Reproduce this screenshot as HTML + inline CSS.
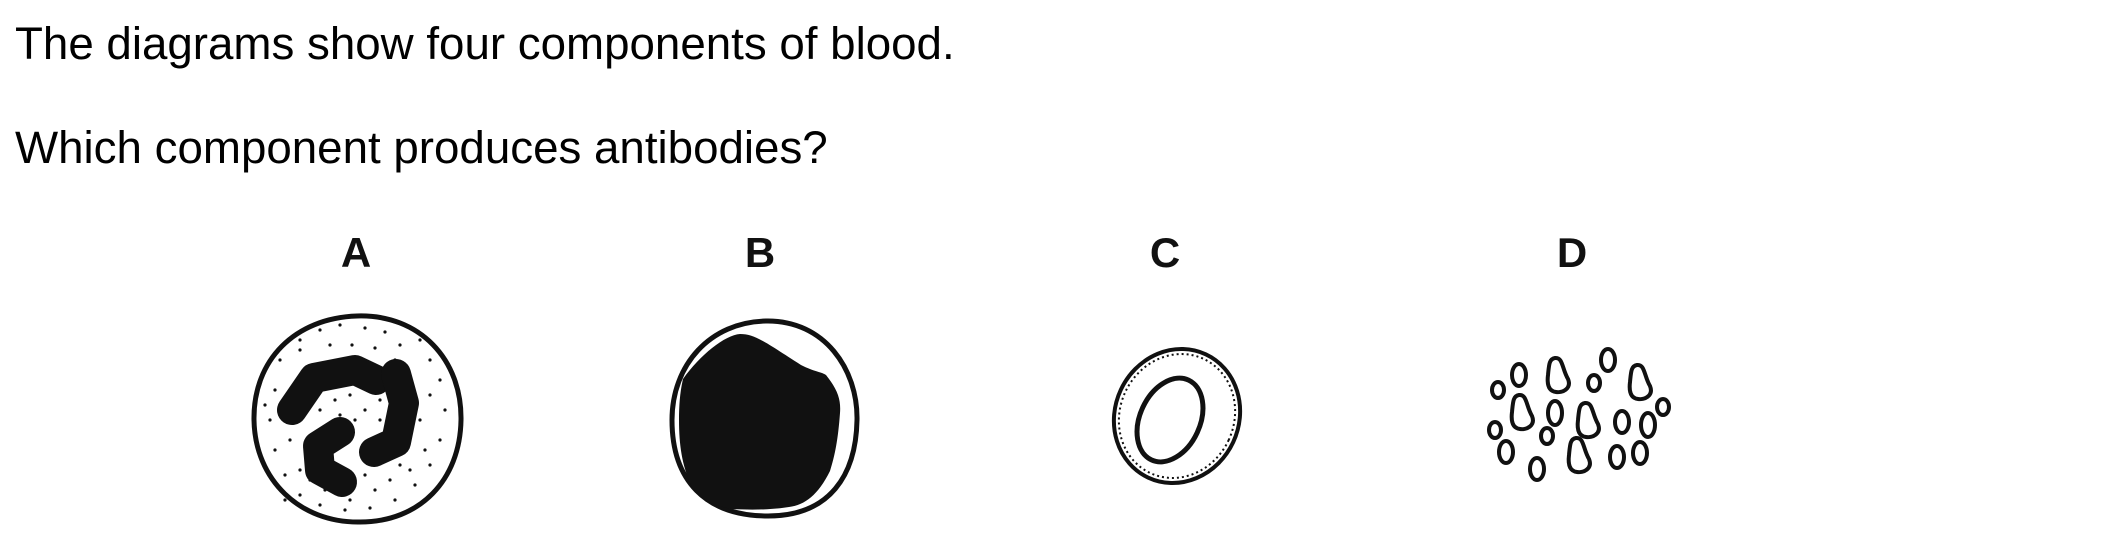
<!DOCTYPE html>
<html><head><meta charset="utf-8"><style>
html,body{margin:0;padding:0;background:#fff;}
body{width:2101px;height:547px;position:relative;overflow:hidden;font-family:"Liberation Sans",Arial,sans-serif;color:#000;}
.t{position:absolute;left:15px;font-size:45.7px;white-space:nowrap;line-height:1;}
</style></head><body>
<div class="t" style="top:21px">The diagrams show four components of blood.</div>
<div class="t" style="top:125px">Which component produces antibodies?</div>
<svg width="2101" height="547" style="position:absolute;left:0;top:0">
<g font-family="Liberation Sans, Arial, sans-serif" font-weight="bold" font-size="42" text-anchor="middle" fill="#111">
<text x="356" y="267">A</text>
<text x="760" y="267">B</text>
<text x="1165" y="267">C</text>
<text x="1572" y="267">D</text>
</g>
<g>
<path d="M357,316 C420,314 462,360 461,420 C460,480 420,522 360,522 C300,523 255,480 254,420 C253,360 295,318 357,316Z" fill="#fff" stroke="#111" stroke-width="5"/>
<g id="dots" fill="#111"></g>
<path d="M292,410 L314,378 L355,370 L376,380" fill="none" stroke="#111" stroke-width="30" stroke-linecap="round" stroke-linejoin="round"/>
<path d="M396,374 L404,403 L396,442 L374,452" fill="none" stroke="#111" stroke-width="30" stroke-linecap="round" stroke-linejoin="round"/>
<path d="M340,432 L318,446 L320,470 L342,482" fill="none" stroke="#111" stroke-width="30" stroke-linecap="round" stroke-linejoin="round"/>
</g>
<g>
<path d="M766,321 C825,320 858,370 857,420 C856,475 830,516 768,516 C705,516 672,480 672,420 C672,365 710,322 766,321Z" fill="#fff" stroke="#111" stroke-width="5"/>
<path d="M683,379 C700,355 725,335 740,334 C755,334 765,342 801,365 C815,372 822,372 826,375 C838,390 841,400 840,413 C838,440 835,455 830,471 C818,495 805,505 789,507 C770,510 750,510 732,509 C710,505 697,498 691,485 C682,465 679,445 679,420 C679,405 680,392 683,379Z" fill="#111"/>
</g>
<g fill="none" stroke="#111">
<ellipse cx="1177" cy="416" rx="62" ry="68" transform="rotate(25 1177 416)" stroke-width="4"/>
<ellipse cx="1177" cy="416" rx="57" ry="63" transform="rotate(25 1177 416)" stroke-width="2" stroke-dasharray="2 3"/>
<ellipse cx="1170" cy="420" rx="30" ry="44" transform="rotate(25 1170 420)" stroke-width="5"/>
</g>
<g id="plt" fill="none" stroke="#111" stroke-width="4"></g>
</svg>
<script>
var dots=document.getElementById('dots');
var pts=[[300,340],[320,330],[340,325],[365,328],[385,332],[400,345],[280,360],[275,390],[270,420],[275,450],[285,475],[300,495],[320,505],[345,510],[370,508],[395,500],[415,485],[430,465],[440,440],[445,410],[440,380],[430,360],[420,340],[330,345],[352,345],[375,348],[300,350],[415,395],[420,420],[425,450],[410,470],[390,480],[365,475],[290,440],[300,470],[335,400],[350,395],[365,410],[355,420],[340,415],[320,410],[380,420],[380,400],[300,392],[310,480],[325,490],[400,465],[430,395],[265,405],[285,500],[395,360],[350,500],[375,490]];
pts.forEach(function(p){var c=document.createElementNS('http://www.w3.org/2000/svg','circle');c.setAttribute('cx',p[0]);c.setAttribute('cy',p[1]);c.setAttribute('r',1.6);dots.appendChild(c);});
var plt=document.getElementById('plt');
var ov=[[1498,390,6,8],[1519,375,7,11],[1608,360,7,11],[1594,383,6,8],[1555,413,7,12],[1622,422,7,11],[1648,425,7,12],[1663,407,6,8],[1495,430,6,8],[1547,436,6,8],[1506,452,7,11],[1537,469,7,11],[1617,457,7,11],[1640,453,7,11]];
ov.forEach(function(o){var e=document.createElementNS('http://www.w3.org/2000/svg','ellipse');e.setAttribute('cx',o[0]);e.setAttribute('cy',o[1]);e.setAttribute('rx',o[2]);e.setAttribute('ry',o[3]);plt.appendChild(e);});
var td=[[1558,375],[1640,382],[1522,412],[1588,420],[1579,455]];
td.forEach(function(t){var x=t[0],y=t[1];var p=document.createElementNS('http://www.w3.org/2000/svg','path');p.setAttribute('d','M'+(x-3)+','+(y-17)+' C'+(x+5)+','+(y-18)+' '+(x+4)+','+(y-6)+' '+(x+10)+','+(y+4)+' C'+(x+14)+','+(y+14)+' '+(x+4)+','+(y+18)+' '+(x-2)+','+(y+17)+' C'+(x-10)+','+(y+16)+' '+(x-11)+','+(y+8)+' '+(x-10)+','+(y)+' C'+(x-9)+','+(y-10)+' '+(x-9)+','+(y-16)+' '+(x-3)+','+(y-17)+'Z');plt.appendChild(p);});
</script>
</body></html>
